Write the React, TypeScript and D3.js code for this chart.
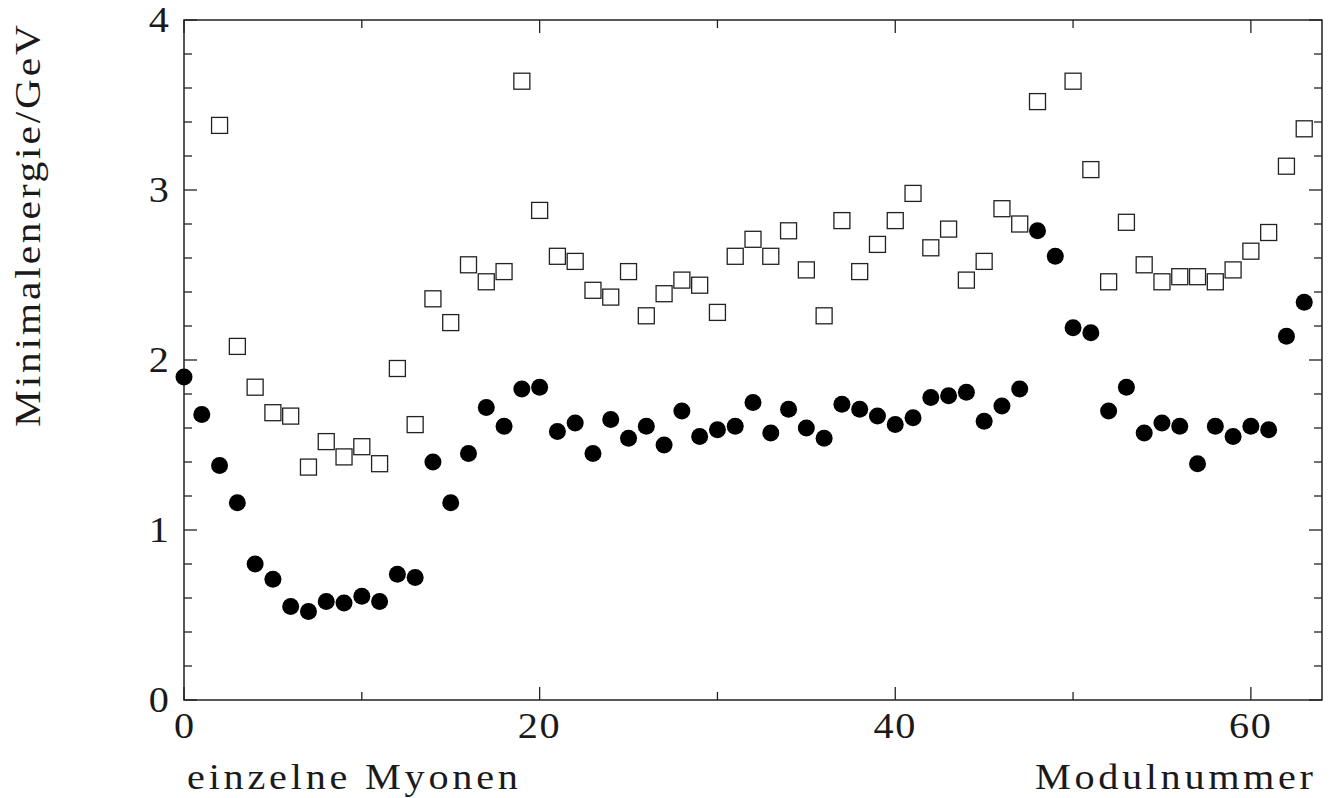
import React from "react";
import * as d3 from "d3";

const modules: number[] = d3.range(0, 64);

// Filled circles (einzelne Myonen)
const circleValues: number[] = [
  1.90, 1.68, 1.38, 1.16, 0.80, 0.71, 0.55, 0.52, 0.58, 0.57,
  0.61, 0.58, 0.74, 0.72, 1.40, 1.16, 1.45, 1.72, 1.61, 1.83,
  1.84, 1.58, 1.63, 1.45, 1.65, 1.54, 1.61, 1.50, 1.70, 1.55,
  1.59, 1.61, 1.75, 1.57, 1.71, 1.60, 1.54, 1.74, 1.71, 1.67,
  1.62, 1.66, 1.78, 1.79, 1.81, 1.64, 1.73, 1.83, 2.76, 2.61,
  2.19, 2.16, 1.70, 1.84, 1.57, 1.63, 1.61, 1.39, 1.61, 1.55,
  1.61, 1.59, 2.14, 2.34,
];

// Open squares
const squareValues: (number | null)[] = [
  null, null, 3.38, 2.08, 1.84, 1.69, 1.67, 1.37, 1.52, 1.43,
  1.49, 1.39, 1.95, 1.62, 2.36, 2.22, 2.56, 2.46, 2.52, 3.64,
  2.88, 2.61, 2.58, 2.41, 2.37, 2.52, 2.26, 2.39, 2.47, 2.44,
  2.28, 2.61, 2.71, 2.61, 2.76, 2.53, 2.26, 2.82, 2.52, 2.68,
  2.82, 2.98, 2.66, 2.77, 2.47, 2.58, 2.89, 2.80, 3.52, null,
  3.64, 3.12, 2.46, 2.81, 2.56, 2.46, 2.49, 2.49, 2.46, 2.53,
  2.64, 2.75, 3.14, 3.36,
];

const xMajorTicks: number[] = [0, 20, 40, 60];
const xMinorTicks: number[] = [10, 30, 50];
const yMajorTicks: number[] = [0, 1, 2, 3, 4];
const yMinorTicks: number[] = d3.range(0, 4.0001, 0.2).filter((v) => Math.abs(v - Math.round(v)) > 1e-6);

const xTitleLeft = "einzelne Myonen";
const xTitleRight = "Modulnummer";
const yTitle = "Minimalenergie/GeV";

const W = 1337;
const H = 798;
const L = 184, R = 1322, T = 20, B = 700;
const SX = 1.15; // horizontal glyph stretch

export default function App() {
  const x = d3.scaleLinear().domain([0, 64]).range([L, R]);
  const y = d3.scaleLinear().domain([0, 4]).range([B, T]);
  const font = "'Liberation Serif', 'Times New Roman', serif";
  const tickColor = "#222";
  const textColor = "#1a1a1a";
  const major = 13, minor = 8;
  const sq = 16;

  return (
    <svg
      width={W}
      height={H}
      style={{ position: "absolute", left: 0, top: 0, background: "#fff" }}
      fontFamily={font}
    >
      <rect x={0} y={0} width={W} height={H} fill="#fff" />
      {/* frame */}
      <rect x={L} y={T} width={R - L} height={B - T} fill="none" stroke="#222" strokeWidth={1.5} />
      {/* x ticks bottom & top */}
      {xMajorTicks.map((t) => (
        <g key={"xM" + t}>
          <line x1={x(t)} x2={x(t)} y1={B} y2={B - major} stroke={tickColor} strokeWidth={1.3} />
          <line x1={x(t)} x2={x(t)} y1={T} y2={T + major} stroke={tickColor} strokeWidth={1.3} />
        </g>
      ))}
      {xMinorTicks.map((t) => (
        <g key={"xm" + t}>
          <line x1={x(t)} x2={x(t)} y1={B} y2={B - minor} stroke={tickColor} strokeWidth={1.3} />
          <line x1={x(t)} x2={x(t)} y1={T} y2={T + minor} stroke={tickColor} strokeWidth={1.3} />
        </g>
      ))}
      {/* y ticks left & right */}
      {yMajorTicks.map((t) => (
        <g key={"yM" + t}>
          <line x1={L} x2={L + major} y1={y(t)} y2={y(t)} stroke={tickColor} strokeWidth={1.3} />
          <line x1={R} x2={R - major} y1={y(t)} y2={y(t)} stroke={tickColor} strokeWidth={1.3} />
        </g>
      ))}
      {yMinorTicks.map((t) => (
        <g key={"ym" + t.toFixed(1)}>
          <line x1={L} x2={L + minor} y1={y(t)} y2={y(t)} stroke={tickColor} strokeWidth={1.3} />
          <line x1={R} x2={R - minor} y1={y(t)} y2={y(t)} stroke={tickColor} strokeWidth={1.3} />
        </g>
      ))}
      {/* x tick labels */}
      {xMajorTicks.map((t) => (
        <text
          key={"xl" + t}
          transform={`translate(${x(t)}, 738) scale(${SX}, 1)`}
          textAnchor="middle"
          fontSize={35}
          letterSpacing={t >= 10 ? 1.5 : 0}
          fill={textColor}
        >
          {t}
        </text>
      ))}
      {/* y tick labels */}
      {yMajorTicks.map((t) => (
        <text
          key={"yl" + t}
          transform={`translate(169, ${y(t) + 12}) scale(${SX}, 1)`}
          textAnchor="end"
          fontSize={35}
          fill={textColor}
        >
          {t}
        </text>
      ))}
      {/* data: squares */}
      {modules.map((m, i) =>
        squareValues[i] == null ? null : (
          <rect
            key={"s" + m}
            x={x(m) - sq / 2}
            y={y(squareValues[i] as number) - sq / 2}
            width={sq}
            height={sq}
            fill="none"
            stroke="#222"
            strokeWidth={1.3}
          />
        )
      )}
      {/* data: circles */}
      {modules.map((m, i) => (
        <circle key={"c" + m} cx={x(m)} cy={y(circleValues[i])} r={8.5} fill="#000" />
      ))}
      {/* titles */}
      <text
        transform={`translate(187, 789) scale(${SX}, 1)`}
        fontSize={35}
        textLength={331 / SX}
        lengthAdjust="spacing"
        fill={textColor}
      >
        {xTitleLeft}
      </text>
      <text
        transform={`translate(1035, 789) scale(${SX}, 1)`}
        fontSize={35}
        textLength={278 / SX}
        lengthAdjust="spacing"
        fill={textColor}
      >
        {xTitleRight}
      </text>
      <text
        transform={`translate(40, 427) rotate(-90) scale(${SX}, 1)`}
        fontSize={36}
        textLength={402 / SX}
        lengthAdjust="spacing"
        fill={textColor}
      >
        {yTitle}
      </text>
    </svg>
  );
}
